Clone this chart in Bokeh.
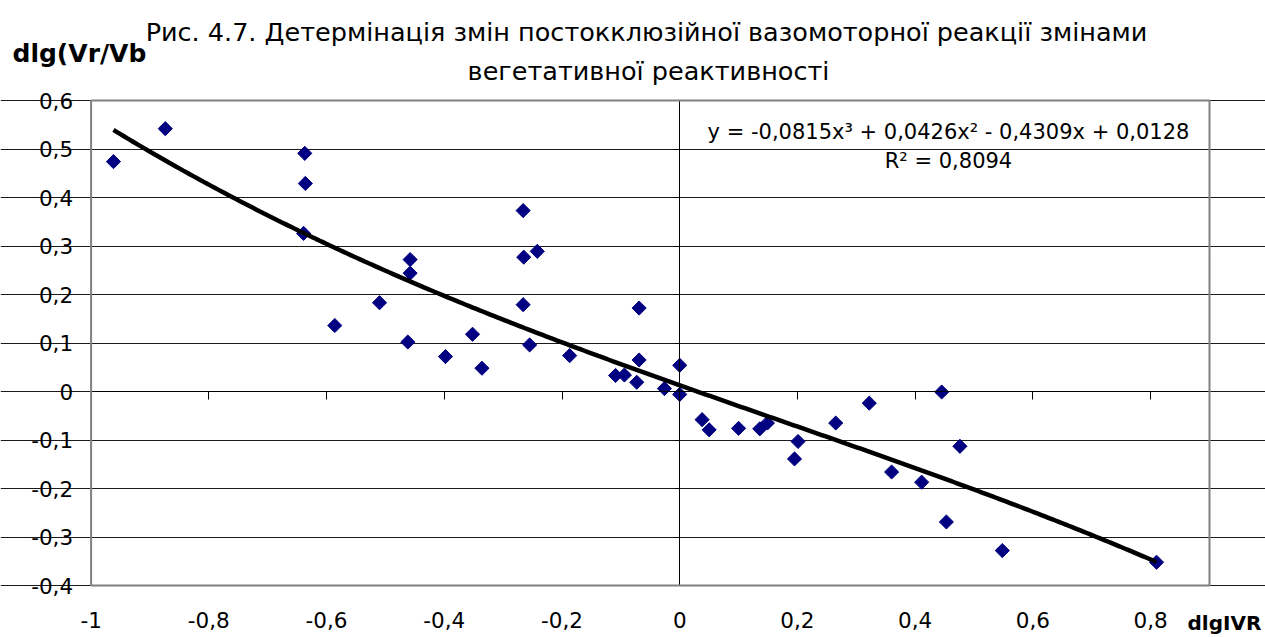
import numpy as np
from bokeh.plotting import figure
from bokeh.models import (LinearAxis, FixedTicker, CustomJSTickFormatter, Label, Range1d,
                          Grid, BoxAnnotation)
from bokeh.embed import file_html
from bokeh.resources import INLINE

# ---------------- data ----------------
x_vals = [-0.962, -0.874, -0.637, -0.636, -0.639, -0.458, -0.458, -0.510, -0.586, -0.462,
          -0.398, -0.352, -0.336, -0.266, -0.265, -0.242, -0.266, -0.255, -0.187, -0.069,
          -0.069, -0.109, -0.094, -0.073, -0.026, 0.000, 0.000, 0.038, 0.050, 0.100,
          0.136, 0.149, 0.201, 0.195, 0.265, 0.322, 0.360, 0.411, 0.445, 0.476,
          0.453, 0.548, 0.810]
y_vals = [0.474, 0.542, 0.491, 0.429, 0.326, 0.272, 0.244, 0.183, 0.136, 0.102,
          0.072, 0.118, 0.048, 0.373, 0.277, 0.289, 0.179, 0.096, 0.074, 0.172,
          0.065, 0.033, 0.034, 0.019, 0.006, 0.054, -0.006, -0.058, -0.079, -0.076,
          -0.077, -0.065, -0.103, -0.139, -0.065, -0.024, -0.166, -0.187, -0.001, -0.113,
          -0.269, -0.328, -0.352]
trend_coeffs = [-0.0815, 0.0426, -0.4309, 0.0128]   # cubic trend, as printed on chart
x_ticks = [-1, -0.8, -0.6, -0.4, -0.2, 0, 0.2, 0.4, 0.6, 0.8]
y_ticks = [-0.4, -0.3, -0.2, -0.1, 0, 0.1, 0.2, 0.3, 0.4, 0.5, 0.6]
title_lines = ["Рис. 4.7. Детермінація змін постокклюзійної вазомоторної реакції змінами",
               "вегетативної реактивності"]
eq_text = "y = -0,0815x³ + 0,0426x² - 0,4309x + 0,0128"
r2_text = "R² = 0,8094"
y_label = "dlg(Vr/Vb"
x_label = "dlgIVR"

# ---------------- layout ----------------
W, H = 1265, 637
# plot-area (axes box) in pixels
PL, PR, PT, PB = 90.6, 1209.0, 100.0, 585.0
X0, X1, Y0, Y1 = -1.0, 0.9, -0.4, 0.6
SX = (PR - PL) / (X1 - X0)
SY = (PB - PT) / (Y1 - Y0)
FONT = "DejaVu Sans"
TICK_FONT = "21.5px"


def dx(px):
    return X0 + (px - PL) / SX


def dy(py):
    return Y1 - (py - PT) / SY


p = figure(width=W, height=H,
           x_range=Range1d(dx(0), dx(W)), y_range=Range1d(dy(H), dy(0)),
           output_backend="svg", toolbar_location=None,
           x_axis_type=None, y_axis_type=None,
           min_border_left=0, min_border_right=0, min_border_top=0, min_border_bottom=0)
p.title.visible = False
p.background_fill_color = "white"
p.border_fill_color = "white"
p.outline_line_color = None

p.add_layout(Grid(dimension=1, ticker=FixedTicker(ticks=y_ticks), bounds=(X0, X1),
                  grid_line_color="#1a1a1a", grid_line_width=1))
p.add_layout(BoxAnnotation(left=X0, right=X1, bottom=Y0, top=Y1, fill_alpha=0,
                           line_color="#808080", line_alpha=1.0, line_width=2,
                           level="overlay"))

fmt = CustomJSTickFormatter(code="""
const v = Math.round(tick * 10) / 10;
return (v === 0 ? '0' : v.toString()).replace('.', ',');
""")

# tick-label axes at the plot-area edges
xlab = LinearAxis(fixed_location=Y0, bounds=(X0, X1), ticker=FixedTicker(ticks=x_ticks),
                  formatter=fmt, axis_line_color=None, major_tick_line_color=None,
                  major_tick_in=0, major_tick_out=0,
                  minor_tick_line_color=None, major_label_standoff=26,
                  major_label_text_font=FONT, major_label_text_font_size=TICK_FONT,
                  major_label_text_color="black")
p.add_layout(xlab, "below")
ylab = LinearAxis(fixed_location=X0, bounds=(Y0, Y1), ticker=FixedTicker(ticks=y_ticks),
                  formatter=fmt, axis_line_color=None, major_tick_line_color=None,
                  major_tick_in=0, major_tick_out=0,
                  minor_tick_line_color=None, major_label_standoff=18,
                  major_label_text_font=FONT, major_label_text_font_size=TICK_FONT,
                  major_label_text_color="black")
p.add_layout(ylab, "left")

# axes crossing at zero
xz = LinearAxis(fixed_location=0, bounds=(X0, X1), ticker=FixedTicker(ticks=x_ticks),
                axis_line_color="black", axis_line_width=1,
                major_tick_line_color="black", major_tick_in=0, major_tick_out=8,
                minor_tick_line_color=None, major_label_text_color=None)
p.add_layout(xz, "below")
yz = LinearAxis(fixed_location=0, bounds=(Y0, Y1), ticker=FixedTicker(ticks=y_ticks),
                axis_line_color="black", axis_line_width=1,
                major_tick_line_color="black", major_tick_in=0, major_tick_out=5,
                minor_tick_line_color=None, major_label_text_color=None)
p.add_layout(yz, "left")

# points and trend line
p.scatter(x_vals, y_vals, marker="square", angle=np.pi / 4, size=10,
          fill_color="#000080", line_color="#000080", line_width=1)
xs = np.linspace(min(x_vals), max(x_vals), 300)
ys = np.polyval(trend_coeffs, xs)
p.line(xs, ys, line_width=4.5, line_color="black")


# texts (py = desired baseline in pixels; corrected for the renderer's baseline offset)
def add_text(txt, px, py, size_px, align, bold=False):
    p.add_layout(Label(x=dx(px), y=dy(py - 0.38 * size_px), text=txt, text_font=FONT,
                       text_font_style="bold" if bold else "normal",
                       text_font_size=f"{size_px}px", text_color="black",
                       text_align=align, text_baseline="alphabetic"))


add_text(title_lines[0], 646, 41, 25.5, "center")
add_text(title_lines[1], 648, 80, 25.5, "center")
add_text(eq_text, 948, 139, 21, "center")
add_text(r2_text, 948, 168, 21, "center")
add_text(y_label, 12, 62, 25, "left", bold=True)
add_text(x_label, 1187, 630, 20, "left", bold=True)

with open("out.html", "w", encoding="utf-8") as f:
    f.write(file_html(p, INLINE))
